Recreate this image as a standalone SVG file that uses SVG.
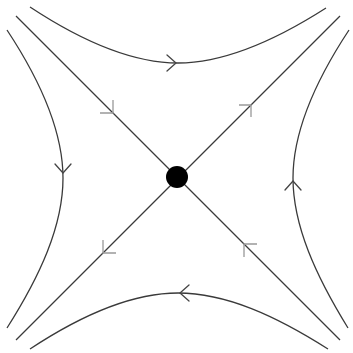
<svg xmlns="http://www.w3.org/2000/svg" width="353" height="353" viewBox="0 0 353 353">
<style>
.ln{fill:none;stroke:#3a3a3a;stroke-width:1.3}
.ar{fill:none;stroke:#444;stroke-width:1.3;stroke-linecap:round;stroke-linejoin:miter}
.ad{fill:none;stroke:#999;stroke-width:1.3}
</style>
<rect width="353" height="353" fill="#fff"/>
<g id="connectors">
<path class="ln" d="M16,16 L340,340"/>
<path class="ln" d="M16,340 L340,16"/>
<path class="ln" d="M30,7 C80,40 130,63 178,63 C226,63 276,40 326,8"/>
<path class="ln" d="M30,349 C80,316 130,293 178,293 C226,293 276,316 328,349"/>
<path class="ln" d="M7,30 C40,80 63,130 63,178 C63,226 40,276 7,328"/>
<path class="ln" d="M349,30 C316,80 293,130 293,178 C293,226 316,276 348,328"/>
<path class="ad" d="M100,113 L113,113 L113,100"/>
<path class="ad" d="M257,244 L244,244 L244,257"/>
<path class="ad" d="M239,105 L251,105 L251,117"/>
<path class="ad" d="M103,240 L103,253 L116,253"/>
<path class="ar" d="M167,55 L176,63 L167,71"/>
<path class="ar" d="M55,164 L63,173 L71,164"/>
<path class="ar" d="M285,190 L293,181 L301,190"/>
<path class="ar" d="M189,285 L180,293 L189,301"/>
</g>
<g id="saddle">
<circle cx="177" cy="177" r="11" fill="#000"/>
</g>
</svg>
